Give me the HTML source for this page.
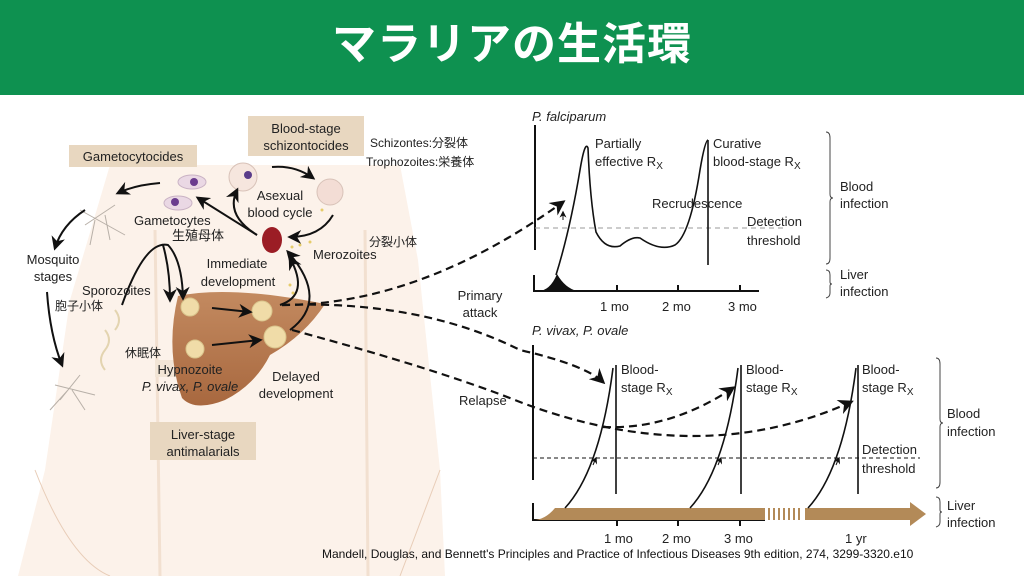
<!DOCTYPE html>
<html><head><meta charset="utf-8"><style>
body{margin:0;width:1024px;height:576px;overflow:hidden;background:#fff;font-family:"Liberation Sans","Noto Sans CJK JP",sans-serif}
.hd{position:absolute;left:0;top:0;width:1024px;height:95px;background:#0e9150;color:#fff;font-size:44px;font-weight:bold;text-align:center;line-height:90px;letter-spacing:1px}
svg{position:absolute;left:0;top:0}
</style></head><body>
<div class="hd">マラリアの生活環</div>
<svg width="1024" height="576" viewBox="0 0 1024 576" font-family="Liberation Sans, Noto Sans CJK JP, sans-serif" font-size="13" fill="#222">
<defs>
<marker id="a" viewBox="0 0 10 10" refX="8" refY="5" markerWidth="7" markerHeight="7" orient="auto"><path d="M0,0L10,5L0,10L3,5z" fill="#111"/></marker>
<linearGradient id="lv" x1="0" y1="0" x2="0" y2="1"><stop offset="0" stop-color="#c38a60"/><stop offset="1" stop-color="#a8683f"/></linearGradient>
</defs>
<!-- body -->
<path d="M110,165 L400,165 L418,260 L440,470 L445,576 L18,576 L45,470 L70,300 Z" fill="#fcf2ea"/>
<path d="M155,230 L160,576 M365,230 L368,576" stroke="#f2e0d0" stroke-width="3" fill="none"/>
<path d="M35,470 Q70,560 110,576 M440,470 Q410,550 400,576" stroke="#e8cdb8" fill="none"/>
<!-- boxes -->
<rect x="69" y="145" width="128" height="22" fill="#e8d7c0"/>
<rect x="248" y="116" width="116" height="40" fill="#e8d7c0"/>
<rect x="150" y="422" width="106" height="38" fill="#e8d7c0"/>
<rect x="155" y="360" width="72" height="17" fill="#f2e5d6"/>
<!-- liver -->
<path d="M178,296 Q230,285 325,304 Q305,335 270,355 Q255,385 225,400 Q195,412 182,398 Q165,350 178,296Z" fill="url(#lv)"/>
<g fill="#f0dca8" stroke="#d9c48c"><circle cx="190" cy="307" r="9"/><circle cx="195" cy="349" r="9"/><circle cx="262" cy="311" r="10"/><circle cx="275" cy="337" r="11"/></g>
<!-- cells -->
<circle cx="243" cy="177" r="14" fill="#f6e6de" stroke="#d8c2b8"/><circle cx="248" cy="175" r="4" fill="#5a3c8a"/>
<circle cx="330" cy="192" r="13" fill="#f3ddd5" stroke="#d8c2b8"/>
<ellipse cx="272" cy="240" rx="10" ry="13" fill="#9b1d25"/>
<ellipse cx="192" cy="182" rx="14" ry="7" fill="#ead8e4" stroke="#c9b2c4"/><ellipse cx="178" cy="203" rx="14" ry="7" fill="#ead8e4" stroke="#c9b2c4"/>
<circle cx="194" cy="182" r="4" fill="#6b3c8e"/><circle cx="175" cy="202" r="4" fill="#6b3c8e"/>
<!-- mosquitoes -->
<g stroke="#b8b0a8" fill="none"><path d="M85,225 L115,205 M80,210 L125,235 M95,220 L90,245 M105,215 L110,240"/><path d="M60,400 L80,375 M55,385 L95,395 M68,390 L50,410 M72,390 L85,410"/></g>
<g stroke="#e3d4b0" fill="none" stroke-width="2"><path d="M105,330 q8,10 0,20 q-8,10 0,20"/><path d="M115,310 q8,10 0,20"/></g>
<!-- arrows -->
<g stroke="#111" stroke-width="2" fill="none" marker-end="url(#a)">
<path d="M160,183 Q135,185 118,193"/>
<path d="M85,210 Q62,225 55,248"/>
<path d="M47,292 Q50,335 62,365"/>
<path d="M122,305 Q145,240 168,245 Q182,260 183,298"/>
<path d="M163,245 Q170,270 170,300"/>
<path d="M257,235 Q225,215 198,198"/>
<path d="M257,235 Q225,215 237,190"/>
<path d="M272,167 Q295,165 313,178"/>
<path d="M333,215 Q320,237 290,237"/>
<path d="M212,308 L250,312"/><path d="M212,345 L260,340"/>
<path d="M280,305 Q310,295 290,258"/>
<path d="M290,330 Q330,300 288,252"/>
</g>
<g fill="#e6cc6a"><circle cx="292" cy="247" r="1.5"/><circle cx="300" cy="245" r="1.5"/><circle cx="310" cy="242" r="1.5"/><circle cx="290" cy="285" r="1.5"/><circle cx="293" cy="293" r="1.5"/><circle cx="322" cy="210" r="1.5"/></g>
<!-- long dashed -->
<g stroke="#111" stroke-width="2.2" fill="none" stroke-dasharray="8,5">
<path d="M282,305 Q420,305 563,202" marker-end="url(#a)"/>
<path d="M282,305 Q420,300 520,350 Q585,365 603,382" marker-end="url(#a)"/>
<path d="M292,330 Q440,370 520,402 Q700,470 851,402" marker-end="url(#a)"/>
<path d="M603,427 Q670,430 733,388" marker-end="url(#a)"/>
</g>
<!-- left texts -->
<g text-anchor="middle">
<text x="133" y="161">Gametocytocides</text>
<text x="306" y="133">Blood-stage</text><text x="306" y="150">schizontocides</text>
<text x="203" y="439">Liver-stage</text><text x="203" y="456">antimalarials</text>
<text x="280" y="200">Asexual</text><text x="280" y="217">blood cycle</text>
<text x="237" y="268">Immediate</text><text x="238" y="286">development</text>
<text x="53" y="264">Mosquito</text><text x="53" y="281">stages</text>
<text x="190" y="374">Hypnozoite</text><text x="190" y="391" font-style="italic">P. vivax, P. ovale</text>
<text x="296" y="381">Delayed</text><text x="296" y="398">development</text>
<text x="480" y="300">Primary</text><text x="480" y="317">attack</text>
</g>
<text x="134" y="225">Gametocytes</text><text x="172" y="240">生殖母体</text>
<text x="370" y="147" font-size="12">Schizontes:分裂体</text><text x="366" y="166" font-size="12">Trophozoites:栄養体</text>
<text x="369" y="246" font-size="12">分裂小体</text>
<text x="313" y="259">Merozoites</text>
<text x="82" y="295">Sporozoites</text><text x="55" y="310" font-size="12">胞子小体</text>
<text x="125" y="357" font-size="12">休眠体</text>
<text x="459" y="405">Relapse</text>
<!-- top chart -->
<text x="532" y="121" font-style="italic">P. falciparum</text>
<g stroke="#111" stroke-width="2" fill="none">
<path d="M535,125V250M534,275V291H759M617,291v-6M678,291v-6M740,291v-6"/>
</g>
<path d="M535,228H785" stroke="#999" stroke-dasharray="5,4"/>
<path d="M538,291 Q550,291 557,274 Q565,288 577,291Z" fill="#111"/>
<path d="M556,275 Q570,230 580,170 Q585,140 588,148 Q590,200 596,232 Q605,250 620,246 Q632,236 640,238 Q660,252 675,245 Q690,235 700,170 Q705,140 708,140" stroke="#111" stroke-width="1.6" fill="none"/>
<path d="M708,140V265" stroke="#111" stroke-width="1.6"/>
<path d="M563,220 l0,-8" stroke="#111" marker-end="url(#a)"/>
<text x="595" y="148">Partially</text><text x="595" y="166">effective R<tspan font-size="10" dy="3">X</tspan></text>
<text x="713" y="148">Curative</text><text x="713" y="166">blood-stage R<tspan font-size="10" dy="3">X</tspan></text>
<text x="652" y="208">Recrudescence</text>
<text x="747" y="226">Detection</text><text x="747" y="245">threshold</text>
<text x="600" y="311">1 mo</text><text x="662" y="311">2 mo</text><text x="728" y="311">3 mo</text>
<path d="M826,132 q4,0 4,6 v56 q0,4 3,4 q-3,0 -3,4 v56 q0,6 -4,6 M826,270 q4,0 4,5 v7 q0,2 2,2 q-2,0 -2,2 v7 q0,4 -4,5" stroke="#444" fill="none"/>
<text x="840" y="191">Blood</text><text x="840" y="208">infection</text>
<text x="840" y="279">Liver</text><text x="840" y="296">infection</text>
<!-- bottom chart -->
<text x="532" y="335" font-style="italic">P. vivax, P. ovale</text>
<g stroke="#111" stroke-width="2" fill="none"><path d="M533,345V480M533,503V520H765M617,520v6M678,520v6M740,520v6"/></g>
<path d="M533,520 Q545,520 555,508 H765 V520Z M805,508H910V502L926,514L910,526V520H805Z" fill="#b38a58"/>
<g stroke="#b38a58" stroke-width="2"><path d="M769,508v12M774,508v12M779,508v12M784,508v12M789,508v12M794,508v12M799,508v12"/></g>
<path d="M533,458H920" stroke="#111" stroke-dasharray="4,3"/>
<g stroke="#111" stroke-width="1.6" fill="none"><path d="M616,365V494M741,365V494M858,365V494"/>
<path d="M565,508 Q600,470 613,368"/><path d="M690,508 Q725,470 738,368"/><path d="M808,508 Q843,470 856,368"/></g>
<g stroke="#111" fill="none" marker-end="url(#a)"><path d="M593,465 l3,-7"/><path d="M718,465 l3,-7"/><path d="M836,465 l3,-7"/></g>
<g><text x="621" y="374">Blood-</text><text x="621" y="392">stage R<tspan font-size="10" dy="3">X</tspan></text>
<text x="746" y="374">Blood-</text><text x="746" y="392">stage R<tspan font-size="10" dy="3">X</tspan></text>
<text x="862" y="374">Blood-</text><text x="862" y="392">stage R<tspan font-size="10" dy="3">X</tspan></text></g>
<text x="862" y="454">Detection</text><text x="862" y="473">threshold</text>
<text x="604" y="543">1 mo</text><text x="662" y="543">2 mo</text><text x="724" y="543">3 mo</text><text x="845" y="543">1 yr</text>
<path d="M936,358 q4,0 4,6 v55 q0,4 3,4 q-3,0 -3,4 v55 q0,6 -4,6 M936,497 q4,0 4,5 v8 q0,2 2,2 q-2,0 -2,2 v8 q0,4 -4,5" stroke="#444" fill="none"/>
<text x="947" y="418">Blood</text><text x="947" y="436">infection</text>
<text x="947" y="510">Liver</text><text x="947" y="527">infection</text>
<text x="322" y="558" font-size="12" fill="#111">Mandell, Douglas, and Bennett's Principles and Practice of Infectious Diseases 9th edition, 274, 3299-3320.e10</text>
</svg>
</body></html>
